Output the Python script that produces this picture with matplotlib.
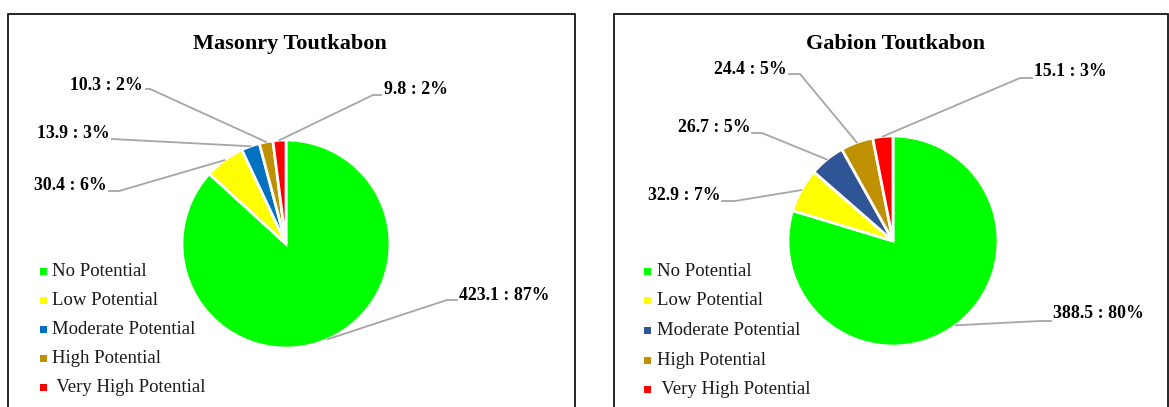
import numpy as np
import matplotlib
matplotlib.use("Agg")
import matplotlib.pyplot as plt
from matplotlib.patches import Rectangle
from matplotlib.lines import Line2D

categories = ["No Potential", "Low Potential", "Moderate Potential", "High Potential", " Very High Potential"]
titles = ["Masonry Toutkabon", "Gabion Toutkabon"]
masonry_values = [423.1, 30.4, 13.9, 10.3, 9.8]
gabion_values = [388.5, 32.9, 26.7, 24.4, 15.1]
masonry_colors = ["#00FF00", "#FFFF00", "#0070C0", "#BF9000", "#FF0000"]
gabion_colors = ["#00FF00", "#FFFF00", "#2F5597", "#BF9000", "#FF0000"]

W, H = 1169, 407
fig = plt.figure(figsize=(W / 100, H / 100), dpi=100)
plt.rcParams['font.family'] = ['Liberation Serif', 'DejaVu Serif']

def fx(x):
    return x / W

def fy(y):
    return 1 - y / H

panels = [
    dict(values=masonry_values, colors=masonry_colors, title=titles[0],
         box=(8, 14, 575, 420), center=(286, 244), r=104, title_xy=(290, 44),
         legend_x=43, legend_y0=271, legend_dy=29.2,
         labels=[  # (text x, text y, ha, elbow x, elbow y, stub end x)
             (459, 295, "left", 447, 300, 457),
             (107, 186, "right", 119, 191, 109),
             (110, 133, "right", 112, 139, 112),
             (143, 85, "right", 150, 89, 146),
             (384, 90, "left", 373, 95, 381),
         ]),
    dict(values=gabion_values, colors=gabion_colors, title=titles[1],
         box=(614, 14, 1168, 420), center=(893, 241), r=105, title_xy=(896, 44),
         legend_x=648, legend_y0=271, legend_dy=29.7,
         labels=[
             (1053, 314, "left", 1040, 321, 1051),
             (720, 196, "right", 735, 201, 722),
             (750, 127, "right", 762, 133, 752),
             (787, 69, "right", 800, 74, 789),
             (1034, 71, "left", 1020, 78, 1032),
         ]),
]

for p in panels:
    x0, y0, x1, y1 = p["box"]
    fig.patches.append(Rectangle((fx(x0), fy(y1)), fx(x1 - x0), (y1 - y0) / H,
                                 transform=fig.transFigure, fill=False,
                                 edgecolor="black", linewidth=1.2, zorder=0))
    cx, cy = p["center"]
    r = p["r"]
    ax = fig.add_axes([fx(cx - r), fy(cy + r), fx(2 * r), 2 * r / H])
    vals = np.array(p["values"])
    wedges, _ = ax.pie(vals, colors=p["colors"], startangle=90, counterclock=False,
                       wedgeprops=dict(edgecolor="white", linewidth=2), radius=1.0)
    ax.set_xlim(-1, 1)
    ax.set_ylim(-1, 1)
    ax.set_aspect("equal")
    ax.axis("off")

    fig.text(fx(p["title_xy"][0]), fy(p["title_xy"][1]), p["title"], ha="center",
             va="center", fontsize=16, fontweight="bold")

    total = vals.sum()
    for w, v, lab in zip(wedges, vals, p["labels"]):
        tx, ty, ha, ex, ey, sx = lab
        mid = np.deg2rad((w.theta1 + w.theta2) / 2)
        px = cx + r * np.cos(mid)
        py = cy - r * np.sin(mid)
        fig.lines.append(Line2D([fx(px), fx(ex), fx(sx)], [fy(py), fy(ey), fy(ey)],
                                transform=fig.transFigure, color="#A6A6A6",
                                linewidth=1.3, zorder=1))
        pct = int(round(v / total * 100))
        fig.text(fx(tx), fy(ty), f"{v:.1f} : {pct}%", ha=ha, va="center",
                 fontsize=12.8, fontweight="bold")

    for i, (cat, col) in enumerate(zip(categories, p["colors"])):
        ly = p["legend_y0"] + i * p["legend_dy"]
        fig.patches.append(Rectangle((fx(p["legend_x"] - 3.5), fy(ly + 3.5)), fx(7), 7 / H,
                                     transform=fig.transFigure, facecolor=col,
                                     edgecolor="none"))
        fig.text(fx(p["legend_x"] + 9), fy(ly), cat, ha="left", va="center",
                 fontsize=13.5, color="#1a1a1a")

fig.savefig("out.png", dpi=100)
